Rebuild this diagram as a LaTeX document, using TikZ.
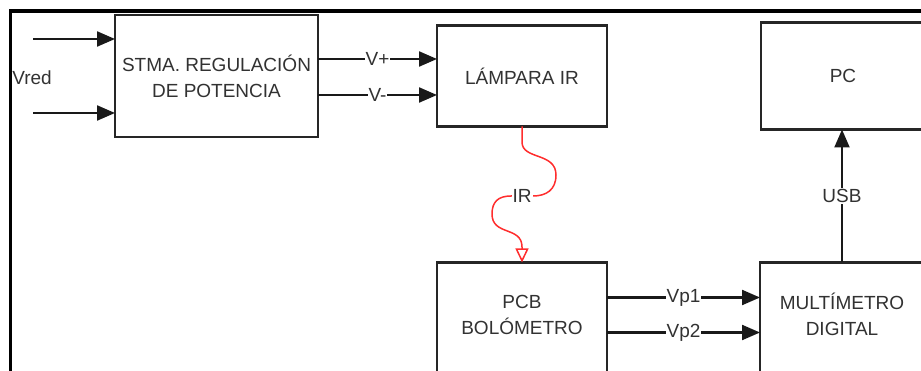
\documentclass[tikz,border=0pt]{standalone}
\usepackage{fontspec}
\setmainfont{Liberation Sans}
\usetikzlibrary{arrows.meta, positioning}
\definecolor{textgray}{RGB}{50,50,50}
\definecolor{irred}{RGB}{255,45,45}

\begin{document}
\begin{tikzpicture}[
  x=1pt, y=-1pt,
  block/.style={rectangle, draw=black!85, line width=2.3pt, fill=white, outer sep=0pt,
    font=\fontsize{19}{26}\selectfont\color{textgray}, align=center},
  blocktext/.style={font=\fontsize{19}{26}\selectfont\color{textgray}, align=center},
  lbl/.style={fill=white, inner sep=1pt, text=textgray, font=\fontsize{19}{22}\selectfont},
  arrow/.style={-{Triangle[length=18pt, width=15pt]}, line width=2.2pt, black!90},
  irarrow/.style={-{Triangle[open, length=14pt, width=13pt]}, line width=1.5pt, irred},
  frame/.style={line width=3.5pt, black}
]
\clip (0,0) rectangle (921,371);
\useasboundingbox (0,0) rectangle (921,371);

% Outer frame
\draw[frame] (10.5,11) rectangle (980,420);

% Blocks
\node[block, minimum width=203pt, minimum height=122pt] (reg) at (216.5,76) {STMA. REGULACIÓN\\DE POTENCIA};
\node[block, minimum width=170pt, minimum height=101pt, right=119pt of reg] (lamp) {LÁMPARA IR};
\node[block, minimum width=164pt, minimum height=107pt, right=154pt of lamp] (pc) {PC};
\node[block, minimum width=170pt, minimum height=130pt, below=136pt of lamp] (pcb) {};
\node[block, minimum width=164pt, minimum height=130pt, right=153pt of pcb] (mult) {};
\node[blocktext] (pcbtext) at ([yshift=-52pt]pcb.north) {PCB\\BOLÓMETRO};
\node[blocktext] (multtext) at ([yshift=-52pt]mult.north) {MULTÍMETRO\\DIGITAL};

% Mains input
\coordinate (in1) at (33,39);
\coordinate (in2) at (33,113);
\node[blocktext, inner sep=0pt] (vred) at (32,78) {Vred};
\draw[arrow] (in1) -- (in1 -| reg.west);
\draw[arrow] (in2) -- (in2 -| reg.west);

% Supply to lamp
\draw[arrow] ([yshift=17pt]reg.east) -- node[lbl]{V+} ([yshift=17pt]reg.east -| lamp.west);
\draw[arrow] ([yshift=-19pt]reg.east) -- node[lbl]{V-} ([yshift=-19pt]reg.east -| lamp.west);

% Radiation
\draw[irarrow] (lamp.south) -- (522,142) .. controls (522,160) and (556,152) .. (556,175)
  .. controls (556,190) and (546,196) .. (533,196) -- node[lbl]{IR} (511,196)
  .. controls (498,196) and (492,202) .. (492,214) .. controls (492,236) and (522,226) .. (522,247)
  -- (pcb.north);

% Bolometer signals
\draw[arrow] ([yshift=-35pt]pcb.north east) -- node[lbl]{Vp1} ([yshift=-35pt]pcb.north east -| mult.west);
\draw[arrow] ([yshift=-70pt]pcb.north east) -- node[lbl]{Vp2} ([yshift=-70pt]pcb.north east -| mult.west);

% Data link
\draw[arrow] (mult.north) -- node[lbl]{USB} (mult.north |- pc.south);
\end{tikzpicture}
\end{document}
